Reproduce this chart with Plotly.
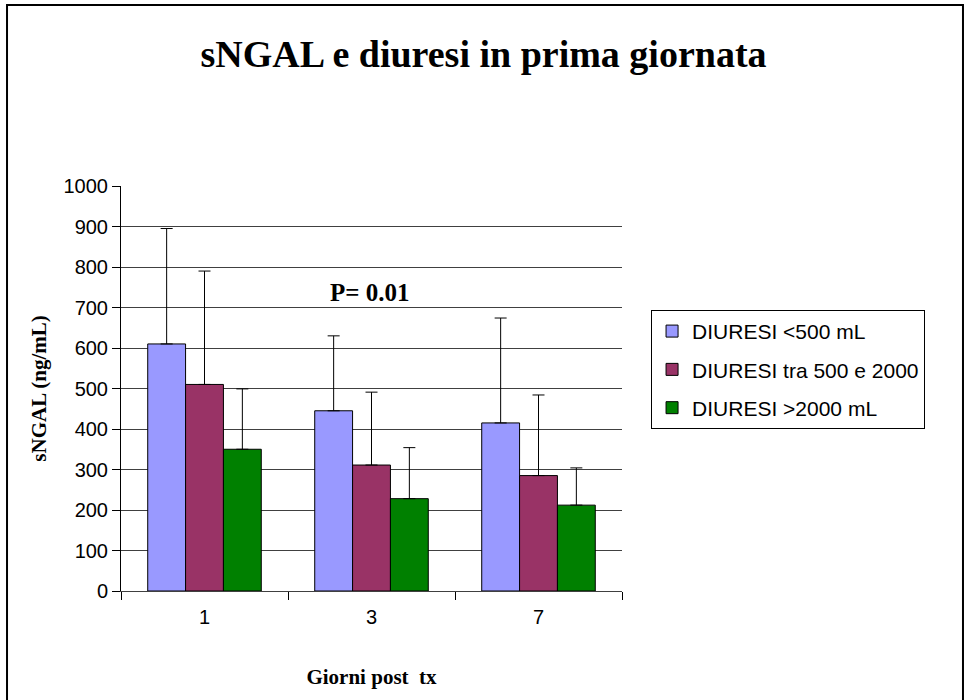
import plotly.graph_objects as go

# categories: days after transplant
days = ["1", "3", "7"]

# mean sNGAL (ng/mL) per urine output group
diuresi_low = [610, 445, 415]
diuresi_mid = [510, 311, 285]
diuresi_high = [350, 228, 212]

# upper error (SD)
err_low = [285, 185, 259]
err_mid = [280, 180, 199]
err_high = [149, 126, 92]

series_names = ["DIURESI <500 mL", "DIURESI tra 500 e 2000", "DIURESI >2000 mL"]
series_colors = ["#9999FF", "#993366", "#008000"]

serif = "Liberation Serif, Times New Roman, serif"
sans = "Liberation Sans, Arial, sans-serif"

fig = go.Figure()
for i, (name, vals, err, col) in enumerate(zip(series_names,
                                               [diuresi_low, diuresi_mid, diuresi_high],
                                               [err_low, err_mid, err_high],
                                               series_colors)):
    fig.add_trace(go.Bar(
        name=name, x=days, y=vals, legendgroup=f"g{i}",
        marker=dict(color=col, line=dict(color="black", width=1)),
        error_y=dict(type="data", symmetric=False, array=err, arrayminus=[0, 0, 0],
                     color="black", thickness=1, width=6),
    ))

fig.update_layout(
    width=967, height=700,
    plot_bgcolor="white", paper_bgcolor="white",
    margin=dict(l=121, r=345, t=186, b=109),
    barmode="group", bargap=0.32, bargroupgap=0,
    title=dict(text="<b>sNGAL e diuresi in prima giornata</b>", x=0.5, xanchor="center",
               y=0.924, yanchor="middle", font=dict(family=serif, size=38, color="black")),
    legend=dict(x=1.058, y=0.694, xanchor="left", yanchor="top",
                bordercolor="black", borderwidth=1, bgcolor="white",
                font=dict(family=sans, size=21, color="black"),
                tracegroupgap=8, itemwidth=30, entrywidth=255),
    xaxis=dict(type="category", showline=True, linecolor="#404040", linewidth=1,
               ticks="outside", tickson="boundaries", ticklen=8, tickcolor="black",
               ticklabelstandoff=8,
               tickfont=dict(family=sans, size=20, color="black"),
               title=dict(text="<b>Giorni post  tx</b>", standoff=42,
                          font=dict(family=serif, size=21, color="black"))),
    yaxis=dict(range=[0, 1000], dtick=100, showline=True, linecolor="black", linewidth=1,
               ticks="outside", ticklen=8, tickcolor="black",
               showgrid=True, gridcolor="#404040", gridwidth=1, zeroline=False,
               tickfont=dict(family=sans, size=20, color="black"),
               title=dict(text="<b>sNGAL (ng/mL)</b>", standoff=11,
                          font=dict(family=serif, size=21, color="black"))),
    annotations=[dict(text="<b>P= 0.01</b>", x=0.497, y=738, xref="paper", yref="y",
                      showarrow=False, font=dict(family=serif, size=25, color="black"))],
    shapes=[dict(type="rect", xref="paper", yref="paper",
                 x0=-0.2275, x1=1.6806, y0=-0.4, y1=1.447,
                 line=dict(color="black", width=2))],
)

fig.write_html("out.html", config={"displayModeBar": False},
               post_script="document.body.style.margin='0';document.body.style.overflow='hidden';")
